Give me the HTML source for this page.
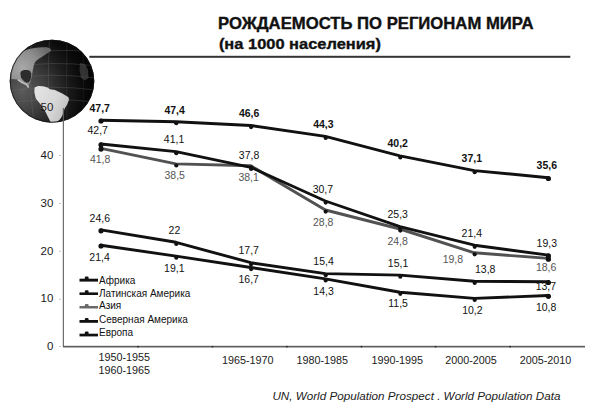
<!DOCTYPE html>
<html><head><meta charset="utf-8">
<style>
html,body{margin:0;padding:0;background:#fff;width:600px;height:406px;overflow:hidden}
svg{position:absolute;left:0;top:0;font-family:"Liberation Sans",sans-serif}
</style></head>
<body>
<svg width="600" height="406" viewBox="0 0 600 406">
<defs>
  <radialGradient id="gl" cx="0.15" cy="0.62" r="0.95">
    <stop offset="0" stop-color="#5c5c5c"/>
    <stop offset="0.3" stop-color="#3e3e3e"/>
    <stop offset="0.55" stop-color="#1e1e1e"/>
    <stop offset="0.75" stop-color="#0b0b0b"/>
    <stop offset="1" stop-color="#020202"/>
  </radialGradient>
  <radialGradient id="na" gradientUnits="userSpaceOnUse" cx="22" cy="68" r="30">
    <stop offset="0" stop-color="#a8a8a8"/>
    <stop offset="0.55" stop-color="#8e8e8e"/>
    <stop offset="1" stop-color="#6a6a6a"/>
  </radialGradient>
  <linearGradient id="sa" gradientUnits="userSpaceOnUse" x1="36" y1="95" x2="70" y2="110">
    <stop offset="0" stop-color="#e2e2e2"/>
    <stop offset="0.55" stop-color="#d6d6d6"/>
    <stop offset="1" stop-color="#bcbcbc"/>
  </linearGradient>
  <clipPath id="gc"><ellipse cx="52" cy="81.2" rx="42.3" ry="41.5"/></clipPath>
</defs>

<!-- title -->
<text x="218" y="28.5" font-size="15.7" font-weight="bold" fill="#111" stroke="#111" stroke-width="0.35" textLength="315.5" lengthAdjust="spacingAndGlyphs">РОЖДАЕМОСТЬ ПО РЕГИОНАМ МИРА</text>
<text x="218.9" y="48.5" font-size="14.7" font-weight="bold" fill="#111" stroke="#111" stroke-width="0.35" textLength="162" lengthAdjust="spacingAndGlyphs">(на 1000 населения)</text>
<rect x="89.3" y="55.8" width="481" height="2" fill="#333"/>

<!-- globe -->
<g>
  <ellipse cx="52" cy="81.2" rx="42.3" ry="41.5" fill="url(#gl)"/>
  <g clip-path="url(#gc)">
    <!-- grid -->
    <g stroke="#707070" stroke-width="0.7" fill="none" opacity="0.45">
      <path d="M8 57 Q50 47 96 52"/>
      <path d="M8 68 Q50 60 96 66"/>
      <path d="M8 79 Q50 72 96 78"/>
      <path d="M8 91 Q50 84 96 90"/>
      <path d="M8 103 Q50 97 96 102"/>
      <path d="M31.5 40 Q28 80 34 124"/>
      <path d="M49.5 40 Q47 80 50 124"/>
      <path d="M67 40 Q66 80 67 124" opacity="0.6"/>
      <path d="M83 42 Q84 80 83 122" opacity="0.4"/>
    </g>
    <!-- north america -->
    <path d="M11.5 79 L11.2 72 L12.5 65 L15 59 L18.5 54.5 L23 51 L29 49 L36 47.8 L42 47.3 L47 47.3 L50.5 48.8 L51.2 50.8 L47 53.5 L42.5 56.5 L38.5 59 L35.5 61.5 L34.2 64 L33.5 67 L32.8 70 L32.4 73 L31.8 77 L30.5 81 L29.2 84.5 L28.5 87.5 L27 85.5 L23 83.5 L19.5 81 L17.4 79.5 Z" fill="url(#na)"/>
    <path d="M20.3 73 L21.5 71 L24 70.1 L27.5 70 L30 70.8 L31.3 73.5 L31.2 77 L30.3 80 L29 82.2 L26.5 82.7 L24 81.2 L22.5 79.5 L21 77.5 Z" fill="#2c2c2c"/>
    <path d="M17.8 79.6 Q22 83.2 26.5 84.5 L28.6 87.6" stroke="#bdbdbd" stroke-width="1.6" fill="none"/>
    <!-- africa edge -->
    <path d="M80 63 L85 64 L88 70 L88.5 78 L85 80.5 L81 78 L79.5 70 Z" fill="#444" opacity="0.7"/>
    <!-- south america -->
    <path d="M34.6 87.4 L38 86 L43 86.2 L47.5 87.5 L50 89.2 L54.9 89.9 L62.3 93.5 L68.5 97.2 L69 99.7 L67.2 104.6 L64.8 108.3 L63.5 112 L62.3 115.7 L59.9 119.4 L56.2 122.5 L52.5 123 L50.6 121.9 L48 117 L45.6 112 L40.7 104.6 L35.8 98.5 L34.3 92 Z" fill="url(#sa)"/>
  </g>
  <ellipse cx="52" cy="81.2" rx="41.8" ry="41" fill="none" stroke="#151515" stroke-width="1" opacity="0.8"/>
</g>

<!-- axes -->
<rect x="62.8" y="108" width="1.1" height="239" fill="#5e5e5e"/>
<rect x="63" y="345.8" width="522" height="1.7" fill="#606060"/>
<g fill="#222">
  <rect x="137.3" y="345.9" width="1.5" height="1.5"/>
  <rect x="211.7" y="345.9" width="1.5" height="1.5"/>
  <rect x="286.1" y="345.9" width="1.5" height="1.5"/>
  <rect x="360.7" y="345.9" width="1.5" height="1.5"/>
  <rect x="434.8" y="345.9" width="1.5" height="1.5"/>
  <rect x="509.4" y="345.9" width="1.5" height="1.5"/>
</g>
<g fill="#c4c4c4">
  <rect x="59" y="155" width="2" height="1"/>
  <rect x="59" y="203" width="2" height="1"/>
  <rect x="59" y="250.8" width="2" height="1"/>
  <rect x="59" y="298.8" width="2" height="1"/>
  <rect x="59" y="346" width="2" height="1"/>
</g>
<g font-size="11.5" fill="#1a1a1a" text-anchor="end">
  <text x="53.4" y="111.4">50</text>
  <text x="53.4" y="159.3">40</text>
  <text x="53.4" y="206.9">30</text>
  <text x="53.4" y="254.6">20</text>
  <text x="53.4" y="302.4">10</text>
  <text x="53.4" y="350">0</text>
</g>

<!-- x labels -->
<g font-size="10.8" fill="#1a1a1a" text-anchor="middle">
  <text x="124.2" y="360.6">1950-1955</text>
  <text x="124.2" y="373.7">1960-1965</text>
  <text x="247.7" y="363.8">1965-1970</text>
  <text x="322.3" y="363.8">1980-1985</text>
  <text x="397.3" y="363.8">1990-1995</text>
  <text x="471" y="363.8">2000-2005</text>
  <text x="545.5" y="363.8">2005-2010</text>
</g>

<!-- source -->
<text x="272.4" y="400.4" font-size="11.7" font-style="italic" fill="#222" textLength="288" lengthAdjust="spacingAndGlyphs">UN, World Population Prospect . World Population Data</text>

<!-- series lines -->
<g fill="none" stroke-width="2.9" stroke-linejoin="round" stroke-linecap="round">
  <polyline stroke="#111" points="101.0,245.2 176.0,256.1 250.8,267.5 325.4,278.9 400.0,292.2 474.4,298.4 548.4,295.5"/>
  <polyline stroke="#111" points="101.0,229.9 176.0,242.3 250.8,262.7 325.4,273.6 400.0,275.1 474.4,281.2 548.4,281.7"/>
  <polyline stroke="#525252" points="101.0,148.3 176.0,163.9 250.8,165.8 325.4,210.0 400.0,229.0 474.4,252.8 548.4,258.4"/>
  <polyline stroke="#111" points="101.0,144.0 176.0,151.6 250.8,167.3 325.4,201.0 400.0,226.6 474.4,245.2 548.4,255.1"/>
  <polyline stroke="#111" points="101.0,120.2 176.0,121.7 250.8,125.5 325.4,136.4 400.0,155.8 474.4,170.6 548.4,177.7"/>
</g>
<!-- markers -->
<g fill="#111">
<circle cx="101.0" cy="246.0" r="2.6"/>
<circle cx="176.3" cy="257.7" r="2.1"/>
<circle cx="251.1" cy="269.1" r="2.1"/>
<circle cx="325.7" cy="280.5" r="2.1"/>
<circle cx="400.3" cy="293.8" r="2.1"/>
<circle cx="474.7" cy="300.0" r="2.1"/>
<circle cx="548.4" cy="296.3" r="2.6"/>
<circle cx="101.0" cy="230.8" r="2.6"/>
<circle cx="176.3" cy="243.9" r="2.1"/>
<circle cx="251.1" cy="264.3" r="2.1"/>
<circle cx="325.7" cy="275.2" r="2.1"/>
<circle cx="400.3" cy="276.7" r="2.1"/>
<circle cx="474.7" cy="282.9" r="2.1"/>
<circle cx="548.4" cy="282.5" r="2.6"/>
<circle cx="101.0" cy="149.1" r="2.6"/>
<circle cx="176.3" cy="165.5" r="2.1"/>
<circle cx="251.1" cy="167.4" r="2.1"/>
<circle cx="325.7" cy="211.6" r="2.1"/>
<circle cx="400.3" cy="230.6" r="2.1"/>
<circle cx="474.7" cy="254.3" r="2.1"/>
<circle cx="548.4" cy="259.2" r="2.6"/>
<circle cx="101.0" cy="144.8" r="2.6"/>
<circle cx="176.3" cy="153.2" r="2.1"/>
<circle cx="251.1" cy="168.9" r="2.1"/>
<circle cx="325.7" cy="202.6" r="2.1"/>
<circle cx="400.3" cy="228.2" r="2.1"/>
<circle cx="474.7" cy="246.8" r="2.1"/>
<circle cx="548.4" cy="255.9" r="2.6"/>
<circle cx="101.0" cy="121.0" r="2.6"/>
<circle cx="176.3" cy="123.2" r="2.1"/>
<circle cx="251.1" cy="127.1" r="2.1"/>
<circle cx="325.7" cy="138.0" r="2.1"/>
<circle cx="400.3" cy="157.4" r="2.1"/>
<circle cx="474.7" cy="172.2" r="2.1"/>
<circle cx="548.4" cy="178.5" r="2.6"/>
</g>

<!-- data labels -->
<g font-size="10.5">
  <text x="89.5" y="111.8" fill="#111" font-weight="bold">47,7</text>
  <text x="87.5" y="134.2" fill="#111">42,7</text>
  <text x="89.9" y="163.2" fill="#555">41,8</text>
  <text x="89.6" y="221.6" fill="#111">24,6</text>
  <text x="89.3" y="261.2" fill="#111">21,4</text>
  <text x="164.4" y="113.6" fill="#111" font-weight="bold">47,4</text>
  <text x="163.8" y="143.3" fill="#111">41,1</text>
  <text x="164.5" y="178.8" fill="#555">38,5</text>
  <text x="168.6" y="234.0" fill="#111">22</text>
  <text x="164.1" y="271.9" fill="#111">19,1</text>
  <text x="238.9" y="117.1" fill="#111" font-weight="bold">46,6</text>
  <text x="238.8" y="159.2" fill="#111">37,8</text>
  <text x="238.4" y="180.5" fill="#555">38,1</text>
  <text x="238.5" y="254.3" fill="#111">17,7</text>
  <text x="238.5" y="282.8" fill="#111">16,7</text>
  <text x="313.2" y="127.8" fill="#111" font-weight="bold">44,3</text>
  <text x="312.7" y="192.6" fill="#111">30,7</text>
  <text x="313.0" y="225.7" fill="#555">28,8</text>
  <text x="313.3" y="265.2" fill="#111">15,4</text>
  <text x="313.3" y="294.5" fill="#111">14,3</text>
  <text x="387.5" y="147.4" fill="#111" font-weight="bold">40,2</text>
  <text x="387.5" y="217.8" fill="#111">25,3</text>
  <text x="387.4" y="244.7" fill="#555">24,8</text>
  <text x="387.8" y="266.6" fill="#111">15,1</text>
  <text x="388.3" y="307.4" fill="#111">11,5</text>
  <text x="461.6" y="162.3" fill="#111" font-weight="bold">37,1</text>
  <text x="461.6" y="237.1" fill="#111">21,4</text>
  <text x="442.7" y="263.0" fill="#555">19,8</text>
  <text x="475.0" y="272.8" fill="#111">13,8</text>
  <text x="462.2" y="313.7" fill="#111">10,2</text>
  <text x="536.6" y="168.8" fill="#111" font-weight="bold">35,6</text>
  <text x="536.6" y="246.9" fill="#111">19,3</text>
  <text x="535.9" y="270.7" fill="#555">18,6</text>
  <text x="535.7" y="289.9" fill="#111">13,7</text>
  <text x="535.9" y="310.6" fill="#111">10,8</text>
</g>

<!-- legend -->
<g fill="#111">
  <rect x="79.5" y="278.7" width="18.5" height="2.9"/>
  <rect x="79.5" y="292.4" width="18.5" height="2.6"/>
  <rect x="79.5" y="306" width="18.5" height="2.5" fill="#6a6a6a"/>
  <rect x="79.5" y="320" width="18.5" height="2.8"/>
  <rect x="79.5" y="333.7" width="18.5" height="2.7"/>
  <rect x="84.8" y="276.4" width="3.8" height="3" rx="1.2"/>
  <rect x="84.8" y="290.3" width="3.8" height="3" rx="1.2"/>
  <rect x="84.8" y="304" width="3.8" height="3" rx="1.2" fill="#6a6a6a"/>
  <rect x="84.8" y="318" width="3.8" height="3" rx="1.2"/>
  <rect x="84.8" y="331.6" width="3.8" height="3" rx="1.2"/>
</g>
<g font-size="10" fill="#111">
  <text x="99" y="283.7">Африка</text>
  <text x="99" y="296.6">Латинская Америка</text>
  <text x="99" y="309.4">Азия</text>
  <text x="99" y="322.9">Северная Америка</text>
  <text x="99" y="335.7">Европа</text>
</g>
</svg>
</body></html>
